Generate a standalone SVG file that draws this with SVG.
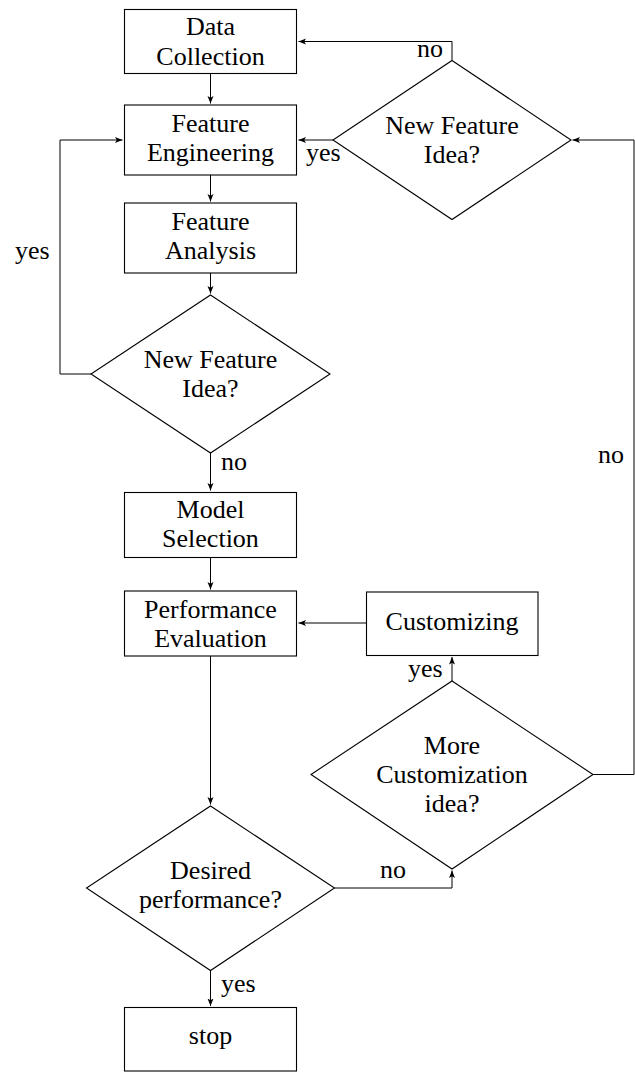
<svg xmlns="http://www.w3.org/2000/svg" width="635" height="1072" viewBox="0 0 635 1072">
<style>
.box{fill:#fff;stroke:#000;stroke-width:1.1}
.t{font-family:'Liberation Serif','Times New Roman','DejaVu Serif',serif;font-size:26px;fill:#000}
.c{text-anchor:middle}
.e{fill:none;stroke:#000;stroke-width:1}
</style>
<defs>
<marker id="a" markerUnits="userSpaceOnUse" markerWidth="10" markerHeight="8" refX="7.5" refY="3" orient="auto">
<path d="M0,0 L7.5,3 L0,6 L1.8,3 Z" fill="#000"/>
</marker>
</defs>
<rect width="635" height="1072" fill="#fff"/>
<g id="connectors">
<path class="e" d="M210.5,74 V103.5" marker-end="url(#a)"/>
<path class="e" d="M210.5,175 V201.5" marker-end="url(#a)"/>
<path class="e" d="M210.5,273 V293.5" marker-end="url(#a)"/>
<path class="e" d="M210.5,453 V490.5" marker-end="url(#a)"/>
<path class="e" d="M210.5,558 V589.5" marker-end="url(#a)"/>
<path class="e" d="M210.5,656 V804.5" marker-end="url(#a)"/>
<path class="e" d="M210.5,971 V1006" marker-end="url(#a)"/>
<path class="e" d="M452,60 V41.5 H298.5" marker-end="url(#a)"/>
<path class="e" d="M333,140 H298.5" marker-end="url(#a)"/>
<path class="e" d="M91,374 H60 V140 H122.5" marker-end="url(#a)"/>
<path class="e" d="M593,774.5 H634 V140 H572.5" marker-end="url(#a)"/>
<path class="e" d="M366,623 H298.5" marker-end="url(#a)"/>
<path class="e" d="M452,681 V657" marker-end="url(#a)"/>
<path class="e" d="M334.5,888 H452 V870.5" marker-end="url(#a)"/>
<text class="t" x="417" y="57">no</text>
<text class="t" x="306" y="161">yes</text>
<text class="t" x="15" y="259">yes</text>
<text class="t" x="221" y="470">no</text>
<text class="t" x="598" y="463">no</text>
<text class="t" x="408" y="677">yes</text>
<text class="t" x="380" y="878">no</text>
<text class="t" x="221" y="992">yes</text>
</g>
<g id="data-collection">
<rect class="box" x="124.5" y="9.5" width="172" height="64"/>
<text class="t c" x="210.5" y="35">Data</text>
<text class="t c" x="210.5" y="64.5">Collection</text>
</g>
<g id="feature-engineering">
<rect class="box" x="124.5" y="105" width="172" height="70"/>
<text class="t c" x="210.5" y="132">Feature</text>
<text class="t c" x="210.5" y="161">Engineering</text>
</g>
<g id="feature-analysis">
<rect class="box" x="124.5" y="203" width="172" height="70"/>
<text class="t c" x="210.5" y="230">Feature</text>
<text class="t c" x="210.5" y="259">Analysis</text>
</g>
<g id="decision-new-feature-2">
<polygon class="box" points="210.5,295 330,374 210.5,453 91,374"/>
<text class="t c" x="210.5" y="367.5">New Feature</text>
<text class="t c" x="210.5" y="396.5">Idea?</text>
</g>
<g id="model-selection">
<rect class="box" x="124.5" y="492.5" width="172" height="65"/>
<text class="t c" x="210.5" y="518">Model</text>
<text class="t c" x="210.5" y="547">Selection</text>
</g>
<g id="performance-evaluation">
<rect class="box" x="124.5" y="591" width="172" height="65"/>
<text class="t c" x="210.5" y="618">Performance</text>
<text class="t c" x="210.5" y="647">Evaluation</text>
</g>
<g id="desired-performance">
<polygon class="box" points="210.5,806 334.5,888 210.5,970.5 86.5,888"/>
<text class="t c" x="210.5" y="879">Desired</text>
<text class="t c" x="210.5" y="908">performance?</text>
</g>
<g id="stop">
<rect class="box" x="124.5" y="1007.5" width="172" height="63.5"/>
<text class="t c" x="210.5" y="1044">stop</text>
</g>
<g id="decision-new-feature-1">
<polygon class="box" points="452,60.5 571,140 452,219.5 333,140"/>
<text class="t c" x="452" y="133.5">New Feature</text>
<text class="t c" x="452" y="163">Idea?</text>
</g>
<g id="customizing">
<rect class="box" x="366.5" y="592" width="171.5" height="63.5"/>
<text class="t c" x="452" y="630">Customizing</text>
</g>
<g id="more-customization">
<polygon class="box" points="452,681 593,774.5 452,869 311,774.5"/>
<text class="t c" x="452" y="753.5">More</text>
<text class="t c" x="452" y="783">Customization</text>
<text class="t c" x="452" y="812">idea?</text>
</g>
</svg>
